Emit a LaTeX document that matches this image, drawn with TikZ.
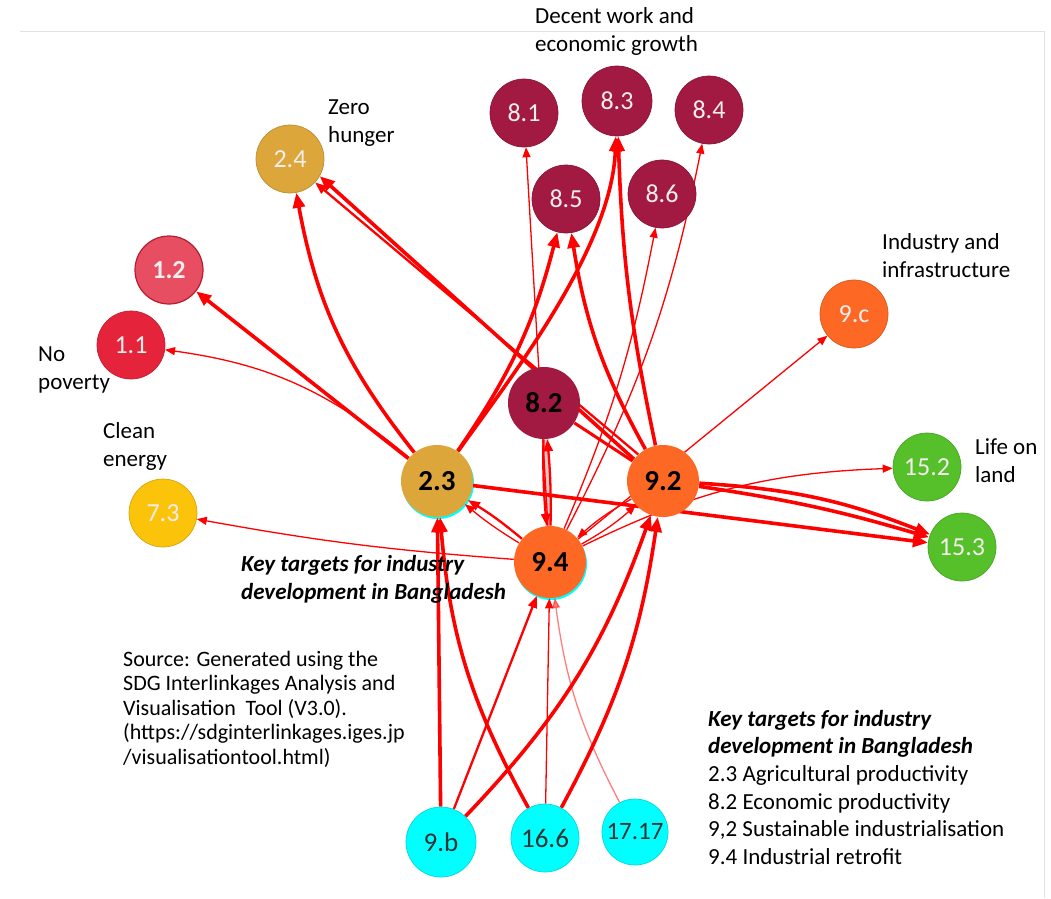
\documentclass[tikz,border=0pt]{standalone}
\usepackage{fontspec}
\setmainfont{Carlito}
\usetikzlibrary{arrows.meta}

\definecolor{gone}{HTML}{E5243B}
\definecolor{gonelight}{HTML}{E84E62}
\definecolor{gtwo}{HTML}{DDA63A}
\definecolor{gseven}{HTML}{FCC30B}
\definecolor{geight}{HTML}{A21942}
\definecolor{gnine}{HTML}{FD6925}
\definecolor{gfifteen}{HTML}{56C02B}
\definecolor{gaqua}{HTML}{00FFFF}
\definecolor{linkred}{HTML}{FF0000}
\definecolor{framegray}{HTML}{E2E2E2}
\definecolor{softwhite}{HTML}{F4EEEE}

\pgfdeclarelayer{paper}
\pgfdeclarelayer{links}
\pgfsetlayers{paper,links,main}

\tikzset{
  target/.style={circle, minimum size=68pt, inner sep=0pt, line width=0.7pt,
    font=\fontsize{26}{26}\selectfont, text=softwhite},
  keytarget/.style={target, minimum size=72pt,
    font=\fontsize{29}{29}\selectfont\bfseries, text=black},
  linktarget/.style={target, fill=gaqua, draw=gaqua!85!black,
    font=\fontsize{27}{27}\selectfont, text=black!80},
  lbl/.style={font=\fontsize{23}{28}\selectfont, align=left,
    anchor=north west, inner sep=0pt},
  thn/.style={linkred, line width=1.3pt,
    -{Triangle[length=10pt,width=8pt]}},
  mid/.style={linkred, line width=2.3pt,
    -{Triangle[length=12pt,width=9pt]}},
  thk/.style={linkred, line width=3.6pt,
    -{Triangle[length=15pt,width=12pt]}},
}

\begin{document}
\begin{tikzpicture}[x=1pt,y=-1pt]
\useasboundingbox (0,0) rectangle (1051,898);
\begin{pgfonlayer}{paper}
\fill[white] (0,0) rectangle (1051,898);
\draw[framegray, line width=1pt] (20,31) -- (1044,31) -- (1044,898);
% cyan rims under two key targets
\fill[gaqua] (438,483) circle (36);
\fill[gaqua] (551,564) circle (36);
\end{pgfonlayer}

% goal 8 targets
\node[target, fill=geight, draw=geight!85!black] (n81) at (524,113) {8.1};
\node[target, fill=geight, draw=geight!85!black, minimum size=70pt] (n83) at (617,101) {8.3};
\node[target, fill=geight, draw=geight!85!black] (n84) at (709,110) {8.4};
\node[target, fill=geight, draw=geight!85!black] (n85) at (566,199) {8.5};
\node[target, fill=geight, draw=geight!85!black] (n86) at (662,194) {8.6};
% goal 2, 1, 7 targets
\node[target, fill=gtwo, draw=gtwo!85!black] (n24) at (290,159) {2.4};
\node[target, fill=gonelight, draw=gone!80!black, line width=1.2pt,
      font=\fontsize{26}{26}\selectfont\bfseries] (n12) at (169,270) {1.2};
\node[target, fill=gone, draw=gone!85!black] (n11) at (131,345) {1.1};
\node[target, fill=gseven, draw=gseven!85!black] (n73) at (163,513) {7.3};
% goal 9 and 15 targets
\node[target, fill=gnine, draw=gnine!85!black] (n9c) at (854,314) {9.c};
\node[target, fill=gfifteen, draw=gfifteen!85!black] (n152) at (927,467) {15.2};
\node[target, fill=gfifteen, draw=gfifteen!85!black] (n153) at (962,547) {15.3};
% key targets
\node[keytarget, fill=gtwo] (n23) at (437,481) {2.3};
\node[keytarget, fill=geight] (n82) at (544,403) {8.2};
\node[keytarget, fill=gnine] (n92) at (663,481) {9.2};
\node[keytarget, fill=gnine] (n94) at (550,562) {9.4};
% linked targets at the bottom
\node[linktarget, minimum size=70pt] (n9b) at (441,842) {9.b};
\node[linktarget] (n166) at (545,838) {16.6};
\node[linktarget, minimum size=66pt, font=\fontsize{25}{25}\selectfont] (n1717) at (635,832) {17.17};

% goal names and notes
\node[lbl] (tdecent) at (535,7) {Decent work and\\economic growth};
\node[lbl] (tzero) at (328,100) {Zero\\hunger};
\node[lbl] (tpoverty) at (38,347) {No\\poverty};
\node[lbl] (tenergy) at (103,422) {Clean\\energy};
\node[lbl] (tindustry) at (882,233) {Industry and\\infrastructure};
\node[lbl] (tland) at (975,438) {Life on\\land};
\node[lbl, font=\fontsize{23}{28}\selectfont\bfseries\itshape] (tkey) at (241,555)
  {Key targets for industry\\development in Bangladesh};
\node[lbl, font=\fontsize{22}{24.5}\selectfont] (tsource) at (123,651)
  {Source: Generated using the\\SDG Interlinkages Analysis and\\Visualisation\ \ Tool (V3.0).\\(https://sdginterlinkages.iges.jp\\/visualisationtool.html)};
\node[lbl, font=\fontsize{23}{27.6}\selectfont] (tlegend) at (708,710)
  {\textbf{\textit{Key targets for industry}}\\\textbf{\textit{development in Bangladesh}}\\2.3 Agricultural productivity\\8.2 Economic productivity\\9,2 Sustainable industrialisation\\9.4 Industrial retrofit};

\begin{pgfonlayer}{links}
% faint band between 8.2 and 9.4
\draw[linkred!22, line width=7pt] (n82) -- (n94);
% links from 2.3
\draw[thk] (n23) to[bend left=14] (n24);
\draw[thk] (n23) -- (n12);
\draw[thn] (n23) to[bend right=16] (n11);
\draw[thk] (n23) .. controls (505,385) and (612,250) .. (n83);
\draw[thk] (n23) to[bend right=10] (n85);
\draw[thk] (n23) -- (n153);
% links from 9.2
\draw[thk] (n92.143) -- (n24.-30);
\draw[mid] (n92.133) -- (n24.-43);
\draw[thk] (n92) to[bend left=10] (n85);
\draw[thk] (n92) to[bend left=5] (n83);
\draw[thk] (n92) to[bend left=4] (n153);
\draw[thk] (n92) to[bend left=9] (n153);
\draw[linkred, line width=3pt] (n82) -- (n92);
\draw[thn] (n92) to[bend right=6] (n94);
\draw[thn] (n94) to[bend right=6] (n92);
% links from 9.4
\draw[thn] (n94) -- (n81);
\draw[thn] (n94) to[bend right=6] (n86);
\draw[thn] (n94) to[bend right=8] (n84);
\draw[thn] (n94) -- (n9c);
\draw[thn] (n94) to[bend left=12] (n152);
\draw[thn] (n94) to[bend left=3] (n73);
\draw[mid] (n94) to[bend right=4] (n23);
\draw[thn] (n94) to[bend left=4] (n23);
\draw[mid] (n94) to[bend right=3] (n82);
\draw[mid] (n82) to[bend right=3] (n94);
% links from the bottom targets
\draw[thk] (n9b) -- (n23);
\draw[mid] (n9b) -- (n94);
\draw[thk] (n9b) to[bend right=12] (n92);
\draw[thk] (n166) to[bend left=12] (n23);
\draw[thn] (n166) -- (n94);
\draw[thk] (n166) to[bend right=10] (n92);
\draw[thn, opacity=.5] (n1717) to[bend left=10] (n94);
\end{pgfonlayer}
\end{tikzpicture}
\end{document}
